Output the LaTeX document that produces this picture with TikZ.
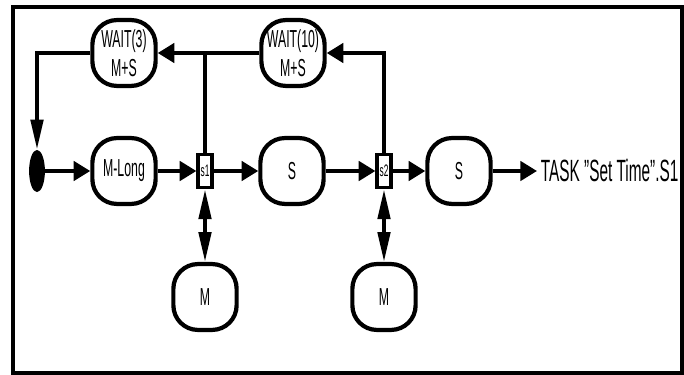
\documentclass[tikz,border=0pt]{standalone}
\usepackage{fontspec}
\setmainfont{Liberation Sans}[FakeStretch=0.5]
\usetikzlibrary{arrows.meta,shapes.geometric}

\begin{document}
\begin{tikzpicture}[x=0.02cm,y=-0.02cm,
    state/.style={draw=black,line width=2.4pt,rounded corners=14pt,minimum width=36pt,minimum height=37.5pt,
      align=center,inner sep=1pt,font=\fontsize{14}{16.5}\selectfont},
    stop/.style={draw=black,line width=1.8pt,fill=white,minimum width=8pt,minimum height=19pt,
      inner sep=0pt,font=\fontsize{9.5}{10}\selectfont},
    flow/.style={line width=2.2pt,-{Triangle[length=9.5pt,width=11pt]}},
    vflow/.style={line width=2.2pt,-{Triangle[length=17pt,width=7pt]}},
    both/.style={line width=2.2pt,{Triangle[length=17pt,width=7pt]}-{Triangle[length=17pt,width=7pt]}},
  ]
          \useasboundingbox (0,0) rectangle (684,375);
          \draw[line width=2.4pt] (13,7) rectangle (682,373);

          % top row
          \node[state] (wait3) at (124,53) {WAIT(3)\\M+S};
          \node[state] (wait10) at (293,53) {WAIT(10)\\M+S};

          % main row
          \node[ellipse,fill=black,minimum width=9pt,minimum height=24pt,inner sep=0pt] (start) at (37,171) {};
          \node[state] (mlong) at (124,171) {M-Long};
          \node[stop] (s1) at (205,171) {s1};
          \node[state] (s) at (292,171) {S};
          \node[stop] (s2) at (384,171) {s2};
          \node[state] (sr) at (459,171) {S};
          \node[anchor=west,inner sep=2pt,font=\fontsize{17.5}{20}\selectfont] (task) at (537,171) {TASK "Set Time".S1};

          % bottom row
          \node[state] (m1) at (205,297) {M};
          \node[state] (m2) at (384,297) {M};

          \draw[flow] (start) -- (mlong);
          \draw[flow] (mlong) -- (s1);
          \draw[flow] (s1) -- (s);
          \draw[flow] (s) -- (s2);
          \draw[flow] (s2) -- (sr);
          \draw[flow] (sr) -- (task);

          \draw[flow] (wait10) -- (wait3);
          \draw[line width=2.2pt] (s1) -- (s1 |- wait3);
          \draw[flow] (s2) -- (s2 |- wait10) -- (wait10);
          \draw[vflow] (wait3) -| (start);

          \draw[both] (s1) -- (m1);
          \draw[both] (s2) -- (m2);
        \end{tikzpicture}
\end{document}
